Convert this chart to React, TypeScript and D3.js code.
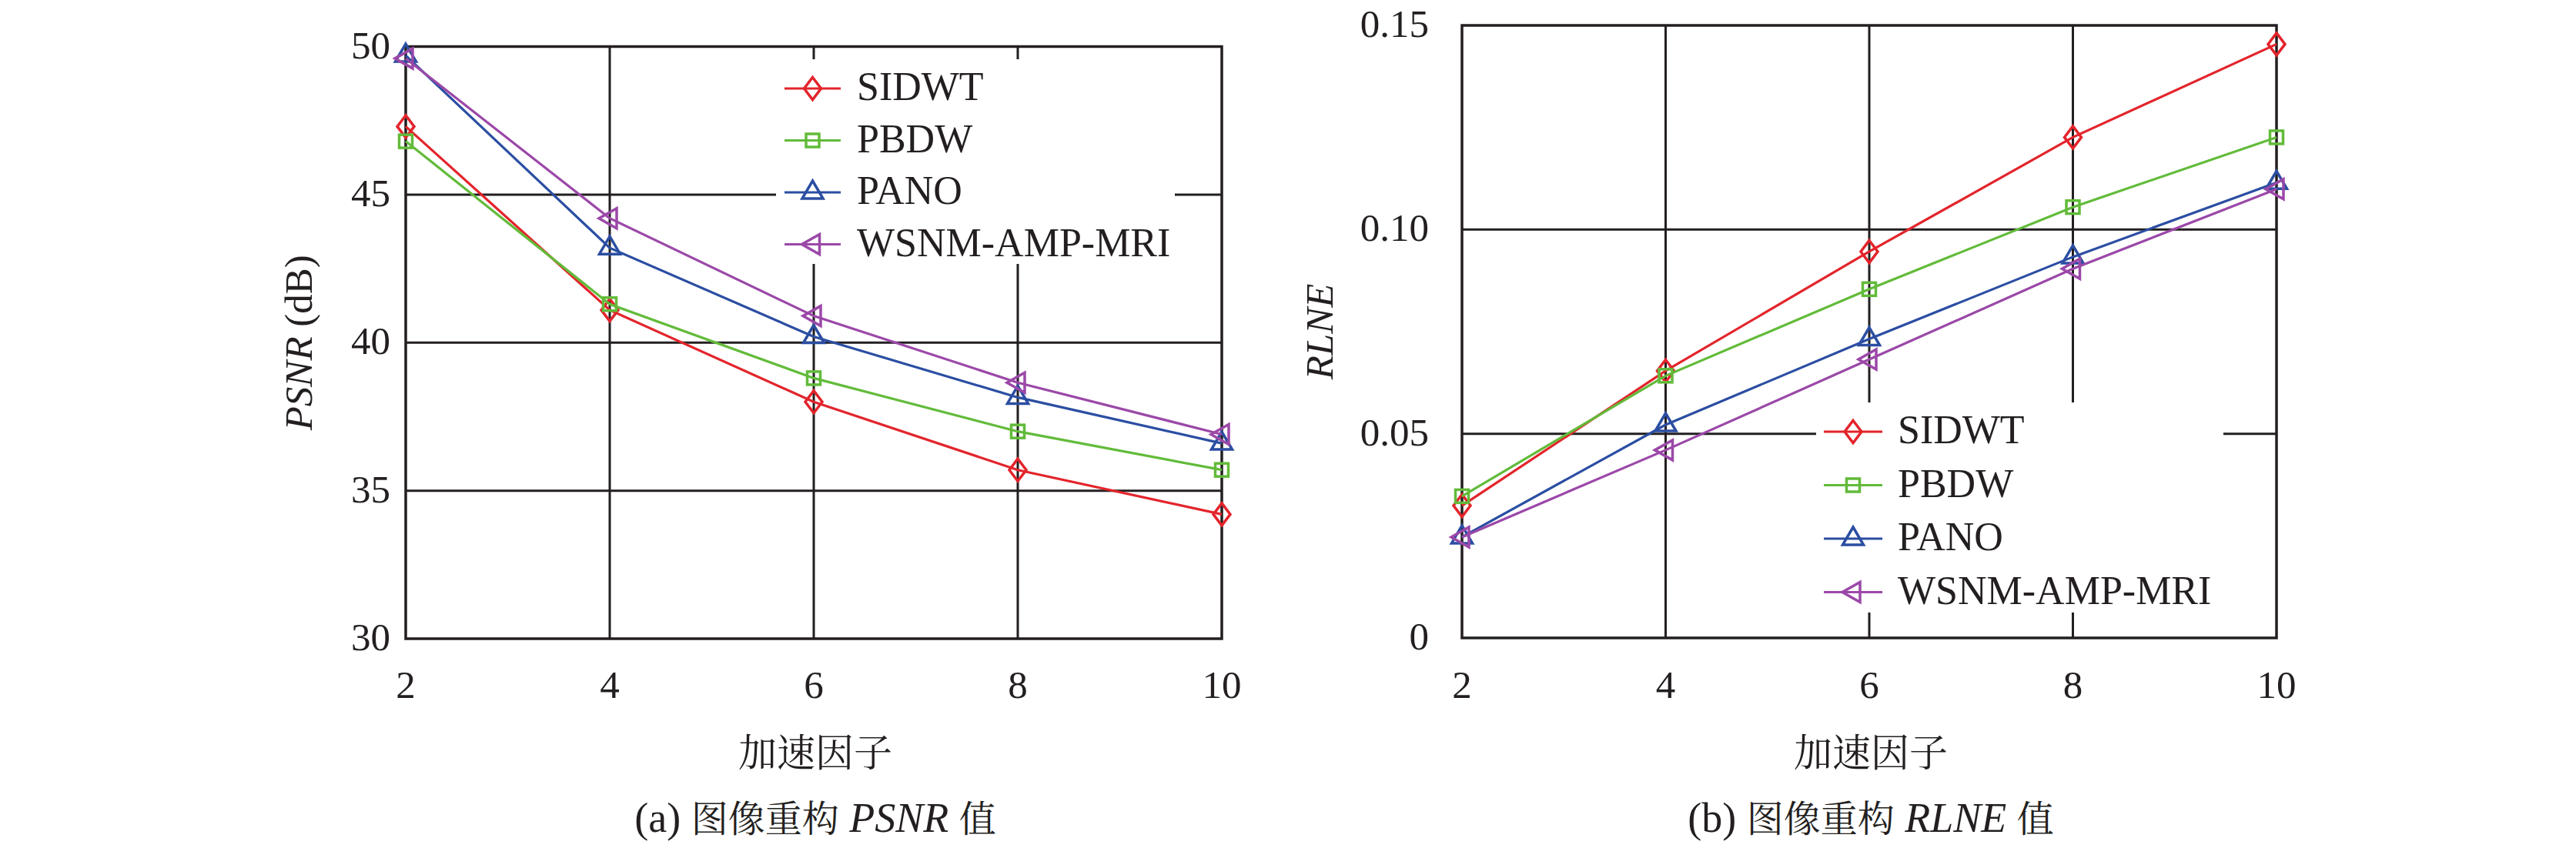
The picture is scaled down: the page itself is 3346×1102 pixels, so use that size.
import React from "react";
import * as d3 from "d3";

// ---------- data ----------
const accelFactors = [2, 4, 6, 8, 10];
const seriesNames = ["SIDWT", "PBDW", "PANO", "WSNM-AMP-MRI"];
const seriesColors = ["#e3242b", "#62bb3a", "#2b4ea2", "#9b48a8"];
const seriesMarkers = ["diamond", "square", "triUp", "triLeft"];

const psnrSIDWT = [47.3, 41.1, 38.0, 35.7, 34.2];
const psnrPBDW = [46.8, 41.3, 38.8, 37.0, 35.7];
const psnrPANO = [49.7, 43.2, 40.2, 38.15, 36.6];
const psnrWSNM = [49.6, 44.2, 40.9, 38.65, 36.9];

const rlneSIDWT = [0.0324, 0.0654, 0.0946, 0.1226, 0.1454];
const rlnePBDW = [0.0347, 0.0642, 0.0854, 0.1055, 0.1226];
const rlnePANO = [0.0247, 0.0522, 0.0732, 0.0933, 0.1115];
const rlneWSNM = [0.0247, 0.046, 0.0682, 0.0904, 0.1099];

const psnrTicks = [30, 35, 40, 45, 50];
const psnrTickLabels = ["30", "35", "40", "45", "50"];
const rlneTicks = [0, 0.05, 0.1, 0.15];
const rlneTickLabels = ["0", "0.05", "0.10", "0.15"];
const xTickLabels = ["2", "4", "6", "8", "10"];

const LAT = "'Liberation Serif', 'Times New Roman', serif";
const CJK = "'Noto Serif CJK SC', 'Noto Sans CJK SC', serif";
const AXIS = "#231f20";

function Marker({ type, x, y, color }: { type: string; x: number; y: number; color: string }) {
  const sw = 3.5;
  if (type === "diamond") {
    const p = `M${x},${y - 14.5} L${x + 11},${y} L${x},${y + 14.5} L${x - 11},${y} Z`;
    return <path d={p} fill="none" stroke={color} strokeWidth={sw} />;
  }
  if (type === "square") {
    return <rect x={x - 8.5} y={y - 8.5} width={17} height={17} fill="none" stroke={color} strokeWidth={sw} />;
  }
  if (type === "triUp") {
    const p = `M${x},${y - 15} L${x + 13.5},${y + 8} L${x - 13.5},${y + 8} Z`;
    return <path d={p} fill="none" stroke={color} strokeWidth={sw} />;
  }
  const p = `M${x - 14},${y} L${x + 9},${y - 13} L${x + 9},${y + 13} Z`;
  return <path d={p} fill="none" stroke={color} strokeWidth={sw} />;
}

type PanelProps = {
  x0: number; x1: number; y0: number; y1: number;
  yDomain: [number, number];
  yTicks: number[]; yTickLabels: string[];
  gridY: number[];
  series: number[][];
  yLabelRight: number;
  yTitle: React.ReactNode;
  yTitleX: number;
  legend: { x: number; y: number; w: number; h: number; lineX0: number; lineX1: number; textX: number; rowY0: number; rowStep: number };
  caption: React.ReactNode;
};

function Panel(p: PanelProps) {
  const xs = d3.scaleLinear().domain([2, 10]).range([p.x0, p.x1]);
  const ys = d3.scaleLinear().domain(p.yDomain).range([p.y1, p.y0]);
  const line = d3.line<number>().x((_, i) => xs(accelFactors[i])).y((d) => ys(d));
  const cx = (p.x0 + p.x1) / 2;
  const cy = (p.y0 + p.y1) / 2;
  const L = p.legend;
  return (
    <g>
      {/* grid */}
      {[4, 6, 8].map((v) => (
        <line key={"gx" + v} x1={xs(v)} x2={xs(v)} y1={p.y0} y2={p.y1} stroke={AXIS} strokeWidth={3} />
      ))}
      {p.gridY.map((v) => (
        <line key={"gy" + v} x1={p.x0} x2={p.x1} y1={ys(v)} y2={ys(v)} stroke={AXIS} strokeWidth={3} />
      ))}
      {/* legend background (interrupts grid) */}
      <rect x={L.x} y={L.y} width={L.w} height={L.h} fill="#fff" />
      {/* frame */}
      <rect x={p.x0} y={p.y0} width={p.x1 - p.x0} height={p.y1 - p.y0} fill="none" stroke={AXIS} strokeWidth={3.5} />
      {/* series */}
      {p.series.map((s, si) => (
        <g key={"s" + si}>
          <path d={line(s) || ""} fill="none" stroke={seriesColors[si]} strokeWidth={3.2} />
          {s.map((v, i) => (
            <Marker key={i} type={seriesMarkers[si]} x={xs(accelFactors[i])} y={ys(v)} color={seriesColors[si]} />
          ))}
        </g>
      ))}
      {/* legend entries */}
      {seriesNames.map((n, i) => {
        const ry = L.rowY0 + i * L.rowStep;
        return (
          <g key={"l" + n}>
            <line x1={L.lineX0} x2={L.lineX1} y1={ry} y2={ry} stroke={seriesColors[i]} strokeWidth={3.2} />
            <Marker type={seriesMarkers[i]} x={(L.lineX0 + L.lineX1) / 2} y={ry} color={seriesColors[i]} />
            <text x={L.textX} y={ry + 15} fontFamily={LAT} fontSize={52} fill="#231f20">{n}</text>
          </g>
        );
      })}
      {/* y tick labels */}
      {p.yTicks.map((v, i) => (
        <text key={"yt" + v} x={p.yLabelRight} y={ys(v) + 15} textAnchor="end" fontFamily={LAT} fontSize={51} fill="#231f20">
          {p.yTickLabels[i]}
        </text>
      ))}
      {/* x tick labels */}
      {accelFactors.map((v, i) => (
        <text key={"xt" + v} x={xs(v)} y={907} textAnchor="middle" fontFamily={LAT} fontSize={51} fill="#231f20">
          {xTickLabels[i]}
        </text>
      ))}
      {/* y title */}
      <text transform={`translate(${p.yTitleX},${cy}) rotate(-90)`} textAnchor="middle" fontFamily={LAT} fontSize={51} fill="#231f20">
        {p.yTitle}
      </text>
      {/* x title */}
      <text x={cx + 2} y={996} textAnchor="middle" fontFamily={CJK} fontSize={50} fill="#231f20">加速因子</text>
      {/* caption */}
      <text x={cx + 2} y={1081} textAnchor="middle" fontFamily={LAT} fontSize={54} fill="#231f20">{p.caption}</text>
    </g>
  );
}

export default function App() {
  return (
    <svg width={3346} height={1102} style={{ position: "absolute", left: 0, top: 0, background: "#fff" }}>
      <rect x={0} y={0} width={3346} height={1102} fill="#fff" />
      <Panel
        x0={527} x1={1587} y0={60.5} y1={830}
        yDomain={[30, 50]}
        yTicks={psnrTicks} yTickLabels={psnrTickLabels}
        gridY={[35, 40, 45]}
        series={[psnrSIDWT, psnrPBDW, psnrPANO, psnrWSNM]}
        yLabelRight={507}
        yTitleX={405}
        yTitle={<><tspan fontStyle="italic">PSNR</tspan><tspan> (dB)</tspan></>}
        legend={{ x: 1008, y: 77, w: 518, h: 266, lineX0: 1019, lineX1: 1092, textX: 1113, rowY0: 115, rowStep: 67.5 }}
        caption={<><tspan>(a) </tspan><tspan fontFamily={CJK} fontSize={48}>图像重构</tspan><tspan fontStyle="italic"> PSNR </tspan><tspan fontFamily={CJK} fontSize={48}>值</tspan></>}
      />
      <Panel
        x0={1899} x1={2957} y0={33} y1={829}
        yDomain={[0, 0.15]}
        yTicks={rlneTicks} yTickLabels={rlneTickLabels}
        gridY={[0.05, 0.1]}
        series={[rlneSIDWT, rlnePBDW, rlnePANO, rlneWSNM]}
        yLabelRight={1856}
        yTitleX={1731}
        yTitle={<tspan fontStyle="italic">RLNE</tspan>}
        legend={{ x: 2359, y: 523, w: 529, h: 273, lineX0: 2369, lineX1: 2445, textX: 2465, rowY0: 561, rowStep: 69.5 }}
        caption={<><tspan>(b) </tspan><tspan fontFamily={CJK} fontSize={48}>图像重构</tspan><tspan fontStyle="italic"> RLNE </tspan><tspan fontFamily={CJK} fontSize={48}>值</tspan></>}
      />
    </svg>
  );
}
